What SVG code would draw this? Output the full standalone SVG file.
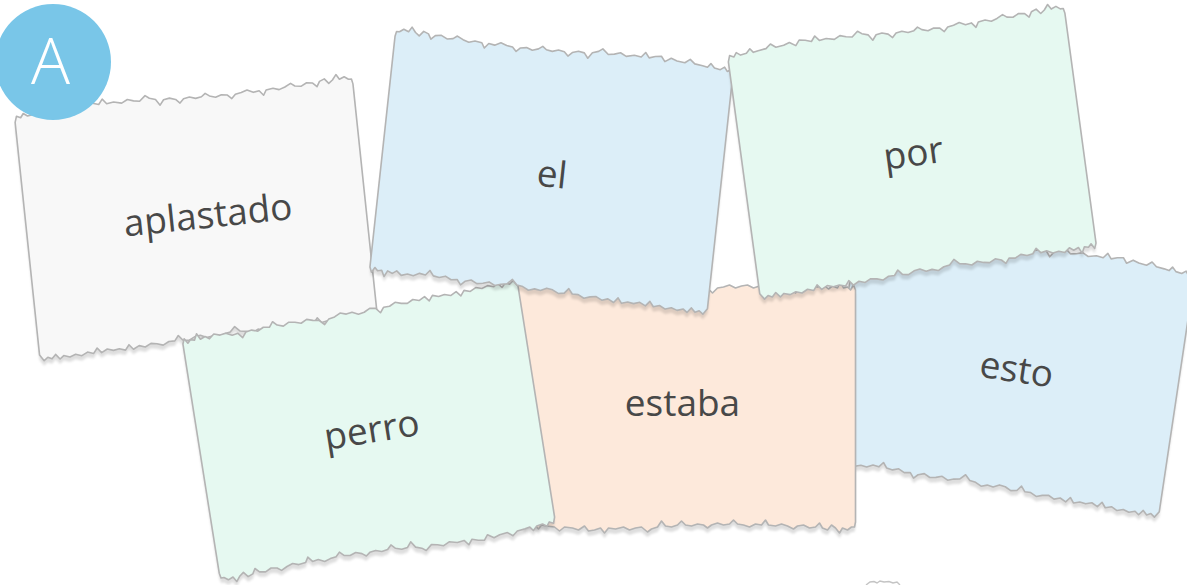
<svg xmlns="http://www.w3.org/2000/svg" xmlns:xlink="http://www.w3.org/1999/xlink" width="1187" height="585" viewBox="0 0 1187 585">
<style>
.paper{stroke:#b4b4b4;stroke-width:1.6;stroke-linejoin:round}
.shadow{fill:#000;fill-opacity:0.13;stroke:none;filter:url(#blur)}
.gray{fill:#f8f8f8}
.blue{fill:#dceef8}
.mint{fill:#e6f9f1}
.peach{fill:#fde9db}
.lbl{font-family:"Open Sans","Noto Sans","Liberation Sans",sans-serif;font-size:37px;fill:#484848;text-anchor:middle}
.badge-txt{font-family:"Open Sans","Noto Sans","Liberation Sans",sans-serif;font-size:65px;font-weight:300;fill:#fff;text-anchor:middle}
</style>
<defs>
<filter id="blur" x="-10%" y="-10%" width="120%" height="120%"><feGaussianBlur stdDeviation="1.2"/></filter>
<path id="paperA" d="M -170,-113 L -168,-119 -164,-117 -161,-121 -157,-118 -151,-119 -147,-123 -144,-119 -139,-120 -131,-121 -126,-125 -121,-121 -113,-122 -107,-124 -101,-120 -97,-125 -91,-124 -85,-122 -81,-127 -77,-122 -70,-123 -62,-121 -56,-124 -50,-122 -44,-121 -38,-126 -34,-123 -28,-121 -24,-115 -20,-120 -14,-121 -8,-119 -4,-115 0,-119 6,-120 12,-118 18,-119 22,-122 26,-119 32,-117 38,-119 44,-118 48,-114 52,-118 58,-119 64,-121 70,-118 76,-119 80,-114 83,-119 90,-120 96,-118 102,-120 108,-123 112,-120 118,-119 124,-122 130,-121 134,-117 137,-122 142,-124 146,-119 150,-122 154,-127 157,-122 162,-124 166,-121 169,-121 170,-116 L 170,116 168,121 165,116 162,119 158,118 155,124 152,118 147,120 143,117 138,121 132,119 126,120 120,117 114,118 110,113 106,118 100,119 94,117 88,120 82,119 78,124 74,120 68,118 62,121 56,120 50,118 44,121 38,119 32,118 27,113 22,118 16,119 10,122 4,120 -2,121 -8,118 -14,119 -20,122 -26,121 -30,116 -34,121 -40,121 -46,124 -52,122 -58,121 -64,124 -70,122 -76,125 -80,120 -84,125 -90,123 -96,124 -102,122 -108,125 -112,120 -116,125 -122,123 -128,126 -134,124 -140,126 -146,124 -150,127 -154,122 -158,126 -162,124 -166,127 -170,121 Z"/>
</defs>

<g id="card-aplastado">
<use xlink:href="#paperA" href="#paperA" class="shadow" transform="translate(196,222) rotate(-6)"/>
<use xlink:href="#paperA" href="#paperA" class="paper gray" transform="translate(196,217) rotate(-6)"/>
<text class="lbl" transform="translate(196,217) rotate(-6)" x="12" y="12">aplastado</text>
</g>

<g id="card-esto">
<use xlink:href="#paperA" href="#paperA" class="shadow" transform="translate(1009,372) rotate(8.5) scale(-1,1)"/>
<use xlink:href="#paperA" href="#paperA" class="paper blue" transform="translate(1009,367) rotate(8.5) scale(-1,1)"/>
<text class="lbl" transform="translate(1009,367) rotate(8.5)" x="8" y="14">esto</text>
</g>

<g id="card-estaba">
<use xlink:href="#paperA" href="#paperA" class="shadow" transform="translate(685.5,411) scale(1,-1)"/>
<use xlink:href="#paperA" href="#paperA" class="paper peach" transform="translate(685.5,406) scale(1,-1)"/>
<text class="lbl" transform="translate(685.5,406)" x="-3" y="10">estaba</text>
</g>

<g id="card-perro">
<use xlink:href="#paperA" href="#paperA" class="shadow" transform="translate(369,437) rotate(-9) scale(-1,-1)"/>
<use xlink:href="#paperA" href="#paperA" class="paper mint" transform="translate(369,432) rotate(-9) scale(-1,-1)"/>
<text class="lbl" transform="translate(369,432) rotate(-9)" x="3" y="11">perro</text>
</g>

<g id="card-el">
<use xlink:href="#paperA" href="#paperA" class="shadow" transform="translate(551.5,175) rotate(6.2) scale(-1,1)"/>
<use xlink:href="#paperA" href="#paperA" class="paper blue" transform="translate(551.5,170) rotate(6.2) scale(-1,1)"/>
<text class="lbl" transform="translate(551.5,170) rotate(6.2)" x="1" y="17">el</text>
</g>

<g id="card-por">
<use xlink:href="#paperA" href="#paperA" class="shadow" transform="translate(912,156) rotate(-7.7)"/>
<use xlink:href="#paperA" href="#paperA" class="paper mint" transform="translate(912,151) rotate(-7.7)"/>
<text class="lbl" transform="translate(912,151) rotate(-7.7)" x="1" y="15">por</text>
</g>

<g id="card-fragment">
<path d="M 866,585 L 870,582 874,581.5 877,583 880,581 884,582 889,581.5 893,583 897,582 900,585" fill="none" stroke="#c4c4c4" stroke-width="1.4"/>
</g>

<g id="badge-A">
<circle cx="53" cy="62" r="58" fill="#79c6e8"/>
<text class="badge-txt" x="50.5" y="83.5">A</text>
</g>
</svg>
